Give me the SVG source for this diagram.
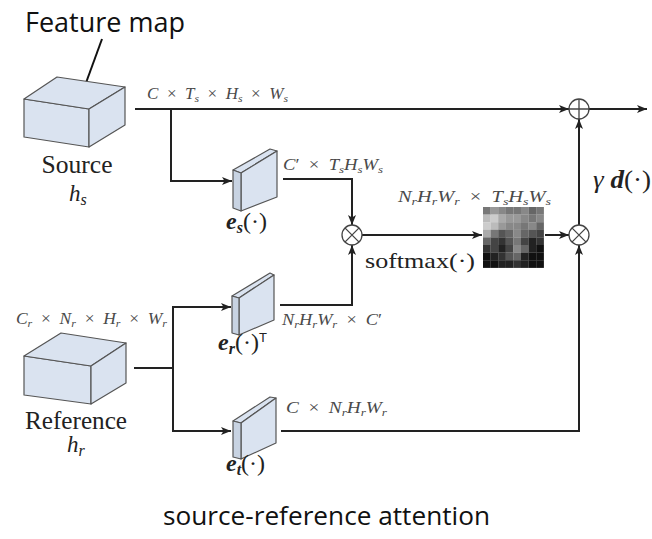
<svg xmlns="http://www.w3.org/2000/svg" width="652" height="539" viewBox="0 0 652 539">
  <style>
    .sans { font-family: "Open Sans", "Noto Sans", "Liberation Sans", sans-serif; fill: #111; }
    .m { font-family: "Liberation Serif", "DejaVu Serif", serif; fill: #4a4a4a; font-size: 16px; }
    .big { font-family: "Liberation Serif", "DejaVu Serif", serif; fill: #222; }
    .it { font-style: italic; }
    .bi { font-style: italic; font-weight: bold; }
    .sub { font-size: 11px; }
    .box { fill: #dae3f0; stroke: #555; stroke-width: 1.2; stroke-linejoin: round; }
    .side { fill: #c8d3e2; stroke: #555; stroke-width: 1.2; stroke-linejoin: round; }
    .wire { fill: none; stroke: #222; stroke-width: 2; }
    .arr { marker-end: url(#arrow); }
    .op { fill: #fff; stroke: #444; stroke-width: 1.3; }
  </style>
  <defs>
    <marker id="arrow" viewBox="0 0 10 8" refX="10" refY="4" markerWidth="11" markerHeight="8" markerUnits="userSpaceOnUse" orient="auto">
      <path d="M0,0 L10,4 L0,8 L2.5,4 Z" fill="#222"/>
    </marker>
  </defs>

  <rect width="652" height="539" fill="#fff"/>

  <!-- callout -->
  <g id="feature-map-callout">
    <text class="sans" x="25" y="32" font-size="27" textLength="160" lengthAdjust="spacingAndGlyphs">Feature map</text>
    <line x1="102" y1="39" x2="83" y2="91" stroke="#111" stroke-width="2"/>
  </g>

  <!-- connectors -->
  <g id="connectors">
    <path class="wire arr" d="M135,109 H569"/>
    <path class="wire arr" d="M589,109 H647"/>
    <path class="wire arr" d="M171,109 V181 H232"/>
    <path class="wire arr" d="M283,179 H352 V225"/>
    <path class="wire arr" d="M362,235 H482"/>
    <path class="wire arr" d="M545,235 H569"/>
    <path class="wire arr" d="M579,225 V119"/>
    <path class="wire" d="M134,368 H173"/>
    <path class="wire arr" d="M173,368 V307 H231"/>
    <path class="wire arr" d="M173,368 V431 H231"/>
    <path class="wire arr" d="M280,305 H352 V245"/>
    <path class="wire arr" d="M281,431 H579 V245"/>
  </g>

  <!-- source feature map -->
  <g id="source">
    <polygon class="box" points="24,99 89,109 89,147 24,137"/>
    <polygon class="box" points="24,99 57,77 125,87 89,109"/>
    <polygon class="box" points="89,109 125,87 125,125 89,147"/>
    <text class="big" x="77" y="173" font-size="25" text-anchor="middle" textLength="71" lengthAdjust="spacingAndGlyphs">Source</text>
    <text class="big" x="69" y="201" font-size="23"><tspan class="it">h</tspan><tspan font-size="16" class="it" dy="4">s</tspan></text>
  </g>

  <!-- reference feature map -->
  <g id="reference">
    <polygon class="box" points="24,356 91,366 91,404 24,395"/>
    <polygon class="box" points="24,356 61,333 126,343 91,366"/>
    <polygon class="box" points="91,366 126,343 126,383 91,404"/>
    <text class="big" x="76" y="429" font-size="25" text-anchor="middle" textLength="102" lengthAdjust="spacingAndGlyphs">Reference</text>
    <text class="big" x="67" y="452" font-size="23"><tspan class="it">h</tspan><tspan font-size="16" class="it" dy="4">r</tspan></text>
  </g>

  <!-- embedding e_s -->
  <g id="embed-s">
    <polygon class="box" points="233,170 270,149 277,151 241,173"/>
    <polygon class="box" points="241,173 277,151 277,197 241,211"/>
    <polygon class="side" points="233,170 241,173 241,211 233,208"/>
    <text class="big" x="226" y="229" font-size="24"><tspan class="bi">e</tspan><tspan class="bi" font-size="16" dy="4">s</tspan><tspan dy="-4">(·)</tspan></text>
  </g>

  <!-- embedding e_r -->
  <g id="embed-r">
    <polygon class="box" points="232,296 270,273 274,275 239,298"/>
    <polygon class="box" points="239,298 274,275 274,320 239,335"/>
    <polygon class="side" points="232,296 239,298 239,335 232,333"/>
    <text class="big" x="218" y="350" font-size="24"><tspan class="bi">e</tspan><tspan class="bi" font-size="16" dy="4">r</tspan><tspan dy="-4">(·)</tspan><tspan font-family="Liberation Sans, sans-serif" font-size="13" dy="-8">T</tspan></text>
  </g>

  <!-- embedding e_t -->
  <g id="embed-t">
    <polygon class="box" points="233,421 270,397 276,398 241,423"/>
    <polygon class="box" points="241,423 276,398 276,443 241,459"/>
    <polygon class="side" points="233,421 241,423 241,459 233,457"/>
    <text class="big" x="226" y="471" font-size="24"><tspan class="bi">e</tspan><tspan class="bi" font-size="16" dy="4">t</tspan><tspan dy="-4">(·)</tspan></text>
  </g>

  <!-- operators -->
  <g id="mul-attn">
    <circle class="op" cx="352" cy="235" r="10"/>
    <path d="M344.9,227.9 L359.1,242.1 M359.1,227.9 L344.9,242.1" stroke="#444" stroke-width="1.3"/>
  </g>
  <g id="mul-value">
    <circle class="op" cx="579" cy="235" r="10"/>
    <path d="M571.9,227.9 L586.1,242.1 M586.1,227.9 L571.9,242.1" stroke="#444" stroke-width="1.3"/>
  </g>
  <g id="add">
    <circle class="op" cx="579" cy="109" r="10"/>
    <path d="M569,109 H589 M579,99 V119" stroke="#444" stroke-width="1.3"/>
  </g>

  <!-- attention map -->
  <g id="attention-map">
    <g transform="translate(483,207)">
      <rect x="0" y="0" width="7.7" height="7.7" fill="#777"/><rect x="7.6" y="0" width="7.7" height="7.7" fill="#999"/><rect x="15.2" y="0" width="7.7" height="7.7" fill="#888"/><rect x="22.8" y="0" width="7.7" height="7.7" fill="#777"/><rect x="30.4" y="0" width="7.7" height="7.7" fill="#777"/><rect x="38" y="0" width="7.7" height="7.7" fill="#888"/><rect x="45.6" y="0" width="7.7" height="7.7" fill="#666"/><rect x="53.2" y="0" width="7.7" height="7.7" fill="#777"/>
      <rect x="0" y="7.6" width="7.7" height="7.7" fill="#bbb"/><rect x="7.6" y="7.6" width="7.7" height="7.7" fill="#ccc"/><rect x="15.2" y="7.6" width="7.7" height="7.7" fill="#aaa"/><rect x="22.8" y="7.6" width="7.7" height="7.7" fill="#999"/><rect x="30.4" y="7.6" width="7.7" height="7.7" fill="#999"/><rect x="38" y="7.6" width="7.7" height="7.7" fill="#888"/><rect x="45.6" y="7.6" width="7.7" height="7.7" fill="#777"/><rect x="53.2" y="7.6" width="7.7" height="7.7" fill="#888"/>
      <rect x="0" y="15.2" width="7.7" height="7.7" fill="#ccc"/><rect x="7.6" y="15.2" width="7.7" height="7.7" fill="#bbb"/><rect x="15.2" y="15.2" width="7.7" height="7.7" fill="#999"/><rect x="22.8" y="15.2" width="7.7" height="7.7" fill="#888"/><rect x="30.4" y="15.2" width="7.7" height="7.7" fill="#888"/><rect x="38" y="15.2" width="7.7" height="7.7" fill="#777"/><rect x="45.6" y="15.2" width="7.7" height="7.7" fill="#888"/><rect x="53.2" y="15.2" width="7.7" height="7.7" fill="#666"/>
      <rect x="0" y="22.8" width="7.7" height="7.7" fill="#aaa"/><rect x="7.6" y="22.8" width="7.7" height="7.7" fill="#777"/><rect x="15.2" y="22.8" width="7.7" height="7.7" fill="#555"/><rect x="22.8" y="22.8" width="7.7" height="7.7" fill="#666"/><rect x="30.4" y="22.8" width="7.7" height="7.7" fill="#888"/><rect x="38" y="22.8" width="7.7" height="7.7" fill="#666"/><rect x="45.6" y="22.8" width="7.7" height="7.7" fill="#555"/><rect x="53.2" y="22.8" width="7.7" height="7.7" fill="#444"/>
      <rect x="0" y="30.4" width="7.7" height="7.7" fill="#666"/><rect x="7.6" y="30.4" width="7.7" height="7.7" fill="#444"/><rect x="15.2" y="30.4" width="7.7" height="7.7" fill="#333"/><rect x="22.8" y="30.4" width="7.7" height="7.7" fill="#555"/><rect x="30.4" y="30.4" width="7.7" height="7.7" fill="#777"/><rect x="38" y="30.4" width="7.7" height="7.7" fill="#444"/><rect x="45.6" y="30.4" width="7.7" height="7.7" fill="#222"/><rect x="53.2" y="30.4" width="7.7" height="7.7" fill="#333"/>
      <rect x="0" y="38" width="7.7" height="7.7" fill="#333"/><rect x="7.6" y="38" width="7.7" height="7.7" fill="#444"/><rect x="15.2" y="38" width="7.7" height="7.7" fill="#222"/><rect x="22.8" y="38" width="7.7" height="7.7" fill="#444"/><rect x="30.4" y="38" width="7.7" height="7.7" fill="#888"/><rect x="38" y="38" width="7.7" height="7.7" fill="#666"/><rect x="45.6" y="38" width="7.7" height="7.7" fill="#222"/><rect x="53.2" y="38" width="7.7" height="7.7" fill="#111"/>
      <rect x="0" y="45.6" width="7.7" height="7.7" fill="#111"/><rect x="7.6" y="45.6" width="7.7" height="7.7" fill="#222"/><rect x="15.2" y="45.6" width="7.7" height="7.7" fill="#333"/><rect x="22.8" y="45.6" width="7.7" height="7.7" fill="#555"/><rect x="30.4" y="45.6" width="7.7" height="7.7" fill="#666"/><rect x="38" y="45.6" width="7.7" height="7.7" fill="#222"/><rect x="45.6" y="45.6" width="7.7" height="7.7" fill="#111"/><rect x="53.2" y="45.6" width="7.7" height="7.7" fill="#111"/>
      <rect x="0" y="53.2" width="7.7" height="7.7" fill="#111"/><rect x="7.6" y="53.2" width="7.7" height="7.7" fill="#111"/><rect x="15.2" y="53.2" width="7.7" height="7.7" fill="#222"/><rect x="22.8" y="53.2" width="7.7" height="7.7" fill="#222"/><rect x="30.4" y="53.2" width="7.7" height="7.7" fill="#333"/><rect x="38" y="53.2" width="7.7" height="7.7" fill="#222"/><rect x="45.6" y="53.2" width="7.7" height="7.7" fill="#111"/><rect x="53.2" y="53.2" width="7.7" height="7.7" fill="#111"/>
    </g>
  </g>

  <!-- dimension and operation labels (en spaces around the × operator) -->
  <g id="labels">
    <text class="m" x="147" y="99" textLength="141" lengthAdjust="spacingAndGlyphs"><tspan class="it">C</tspan>&#8194;×&#8194;<tspan class="it">T</tspan><tspan class="sub it" dy="3">s</tspan><tspan dy="-3">&#8194;×&#8194;</tspan><tspan class="it">H</tspan><tspan class="sub it" dy="3">s</tspan><tspan dy="-3">&#8194;×&#8194;</tspan><tspan class="it">W</tspan><tspan class="sub it" dy="3">s</tspan></text>
    <text class="m" x="283" y="170" textLength="100" lengthAdjust="spacingAndGlyphs"><tspan class="it">C</tspan>′&#8194;×&#8194;<tspan class="it">T</tspan><tspan class="sub it" dy="3">s</tspan><tspan class="it" dy="-3">H</tspan><tspan class="sub it" dy="3">s</tspan><tspan class="it" dy="-3">W</tspan><tspan class="sub it" dy="3">s</tspan></text>
    <text class="m" x="398" y="202" textLength="153" lengthAdjust="spacingAndGlyphs"><tspan class="it">N</tspan><tspan class="sub it" dy="3">r</tspan><tspan class="it" dy="-3">H</tspan><tspan class="sub it" dy="3">r</tspan><tspan class="it" dy="-3">W</tspan><tspan class="sub it" dy="3">r</tspan><tspan dy="-3">&#8194;×&#8194;</tspan><tspan class="it">T</tspan><tspan class="sub it" dy="3">s</tspan><tspan class="it" dy="-3">H</tspan><tspan class="sub it" dy="3">s</tspan><tspan class="it" dy="-3">W</tspan><tspan class="sub it" dy="3">s</tspan></text>
    <text class="m" x="282" y="325" textLength="100" lengthAdjust="spacingAndGlyphs"><tspan class="it">N</tspan><tspan class="sub it" dy="3">r</tspan><tspan class="it" dy="-3">H</tspan><tspan class="sub it" dy="3">r</tspan><tspan class="it" dy="-3">W</tspan><tspan class="sub it" dy="3">r</tspan><tspan dy="-3">&#8194;×&#8194;</tspan><tspan class="it">C</tspan>′</text>
    <text class="m" x="16" y="324" textLength="151" lengthAdjust="spacingAndGlyphs"><tspan class="it">C</tspan><tspan class="sub it" dy="3">r</tspan><tspan dy="-3">&#8194;×&#8194;</tspan><tspan class="it">N</tspan><tspan class="sub it" dy="3">r</tspan><tspan dy="-3">&#8194;×&#8194;</tspan><tspan class="it">H</tspan><tspan class="sub it" dy="3">r</tspan><tspan dy="-3">&#8194;×&#8194;</tspan><tspan class="it">W</tspan><tspan class="sub it" dy="3">r</tspan></text>
    <text class="m" x="286" y="413" textLength="101" lengthAdjust="spacingAndGlyphs"><tspan class="it">C</tspan>&#8194;×&#8194;<tspan class="it">N</tspan><tspan class="sub it" dy="3">r</tspan><tspan class="it" dy="-3">H</tspan><tspan class="sub it" dy="3">r</tspan><tspan class="it" dy="-3">W</tspan><tspan class="sub it" dy="3">r</tspan></text>
    <text class="big" x="365" y="268" font-size="22" textLength="110" lengthAdjust="spacingAndGlyphs">softmax(·)</text>
    <text class="big" x="593" y="188" font-size="25" textLength="58" lengthAdjust="spacingAndGlyphs"><tspan class="it">γ</tspan> <tspan class="bi">d</tspan>(·)</text>
  </g>

  <text id="caption" class="sans" x="163" y="525" font-size="26" textLength="327" lengthAdjust="spacingAndGlyphs">source-reference attention</text>
</svg>
